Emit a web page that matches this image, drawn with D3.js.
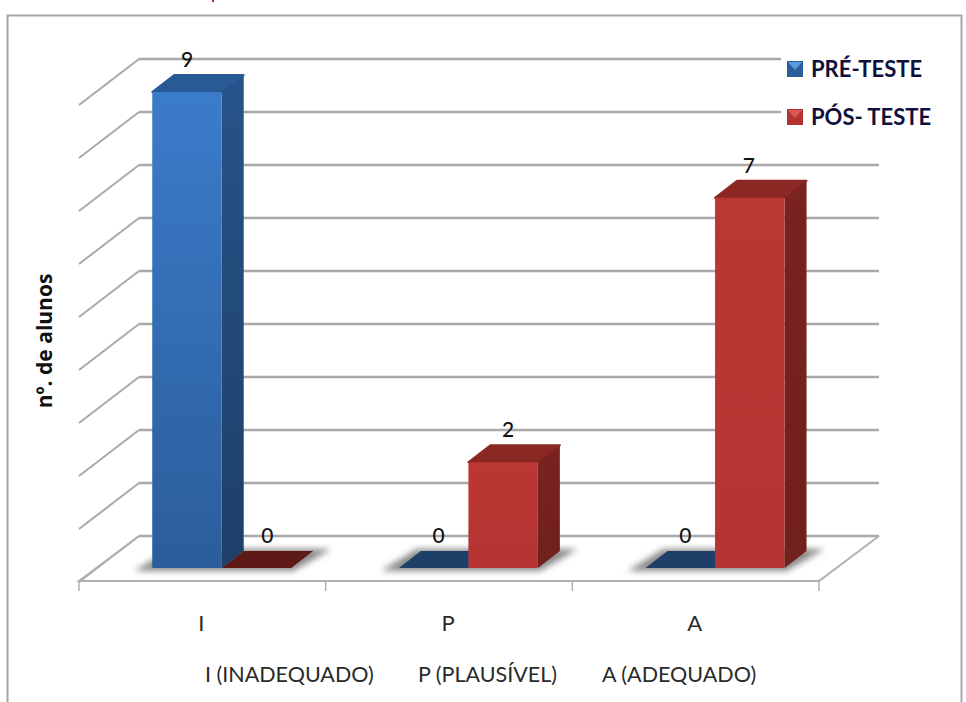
<!DOCTYPE html>
<html>
<head>
<meta charset="utf-8">
<script src="https://cdn.jsdelivr.net/npm/d3@7"></script>
<style>
  html, body { margin: 0; padding: 0; background: #fff; }
  svg { display: block; }
  text { font-family: Lato, "Open Sans", sans-serif; fill: #111; }
</style>
</head>
<body>
<script>
const categories = ["I", "P", "A"];
const seriesNames = ["PRÉ-TESTE", "PÓS- TESTE"];
const preTeste = [9, 0, 0];
const posTeste = [0, 2, 7];
const yTicks = [0, 1, 2, 3, 4, 5, 6, 7, 8, 9];
const categoryNotes = ["I (INADEQUADO)", "P (PLAUSÍVEL)", "A (ADEQUADO)"];
const axisTitle = "nº. de alunos";

const width = 966, height = 702;
const svg = d3.select("body").append("svg").attr("width", width).attr("height", height);
const defs = svg.append("defs");

// Plot geometry of the oblique 3D box
const plotLeft = 79, plotRight = 819;
const wallDx = 60, wallDy = 45;     // shift from the floor's front edge to the back wall
const barDx = 22, barDy = 17;       // depth of each bar
const floorFrontY = 581;

const x0 = d3.scaleBand().domain(categories).range([plotLeft, plotRight]);
const x1 = d3.scaleBand().domain(seriesNames).range([0, x0.step()]).paddingOuter(0.775).align(0.68);
const yBar = d3.scaleLinear().domain([0, 9]).range([568, 92]);
const yWall = d3.scaleLinear().domain([0, 9]).range([536, 59]);

const palette = {
  "PRÉ-TESTE": { top: "#2a5a96", sideHi: "#27548a", sideLo: "#1d3f68", flat: "#1d3f68", grad: "gradBlue", hi: "#3b7cca", lo: "#2b5d9b" },
  "PÓS- TESTE": { top: "#8c2823", sideHi: "#7a2320", sideLo: "#70201d", flat: "#5e1a17", grad: "gradRed", hi: "#bb3733", lo: "#b53431" }
};

for (const name of seriesNames) {
  const c = palette[name];
  const g = defs.append("linearGradient").attr("id", c.grad).attr("x1", 0).attr("y1", 0).attr("x2", 0).attr("y2", 1);
  g.append("stop").attr("offset", "0%").attr("stop-color", c.hi);
  g.append("stop").attr("offset", "100%").attr("stop-color", c.lo);
  const s = defs.append("linearGradient").attr("id", c.grad + "Side").attr("x1", 0).attr("y1", 0).attr("x2", 0).attr("y2", 1);
  s.append("stop").attr("offset", "0%").attr("stop-color", c.sideHi);
  s.append("stop").attr("offset", "100%").attr("stop-color", c.sideLo);
}
defs.append("filter").attr("id", "floorShadow")
  .attr("x", "-20%").attr("y", "-60%").attr("width", "140%").attr("height", "220%")
  .append("feGaussianBlur").attr("stdDeviation", 3);

// Outer chart frame, open at the bottom
svg.append("path")
  .attr("d", d3.line()([[7.5, height], [7.5, 15.5], [961.5, 15.5], [961.5, height]]))
  .attr("fill", "none").attr("stroke", "#a6a6a6").attr("stroke-width", 2);

// Descender of the heading cut off by the top edge
svg.append("path")
  .attr("d", d3.line()([[213, 0], [213, 2]]))
  .attr("stroke", "#c0202a").attr("stroke-width", 2);

// Back wall gridlines and their slanted continuation on the side wall
const grid = svg.append("g").attr("stroke", "#a9a9a9").attr("fill", "none");
grid.selectAll("line.back").data(yTicks).join("line").attr("class", "back")
  .attr("x1", plotLeft + wallDx).attr("x2", plotRight + wallDx)
  .attr("y1", d => yWall(d)).attr("y2", d => yWall(d))
  .attr("stroke-width", 2.5);
grid.selectAll("line.side").data(yTicks).join("line").attr("class", "side")
  .attr("x1", plotLeft + wallDx).attr("x2", plotLeft)
  .attr("y1", d => yWall(d)).attr("y2", d => yWall(d) + wallDy + 1)
  .attr("stroke-width", 2);

// Floor edges and category ticks
const floor = svg.append("g").attr("stroke", "#b0b0b0").attr("fill", "none");
floor.append("path")
  .attr("d", d3.line()([[plotLeft + wallDx, yWall(0)], [plotLeft, floorFrontY], [plotRight, floorFrontY], [plotRight + wallDx, yWall(0)]]))
  .attr("stroke-width", 2);
const tickXs = categories.map(c => x0(c)).concat(plotRight);
floor.selectAll("line.tick").data(tickXs).join("line").attr("class", "tick")
  .attr("x1", d => d).attr("x2", d => d)
  .attr("y1", floorFrontY).attr("y2", floorFrontY + 10)
  .attr("stroke-width", 1.5);

// Soft shadow under each pair of bars
svg.append("g").selectAll("path").data(categories).join("path")
  .attr("d", c => {
    const l = x0(c) + x1(seriesNames[0]);
    const r = x0(c) + x1(seriesNames[1]) + x1.bandwidth();
    const b = yBar(0);
    return d3.line()([[l - 18, b + 3], [r + 2, b + 3], [r + barDx + 18, b - barDy - 2], [l + barDx - 4, b - barDy - 2]]);
  })
  .attr("fill", "#8a8a8a").attr("filter", "url(#floorShadow)");

// Bars, each one a front, a top and a side face
const rows = categories.flatMap((c, i) => [
  { cat: c, name: seriesNames[0], value: preTeste[i] },
  { cat: c, name: seriesNames[1], value: posTeste[i] }
]);
const w = x1.bandwidth();
const bars = svg.append("g").selectAll("g").data(rows).join("g")
  .attr("stroke-linejoin", "round");

bars.each(function (d) {
  const g = d3.select(this);
  const c = palette[d.name];
  const l = x0(d.cat) + x1(d.name), r = l + w;
  const t = yBar(d.value), b = yBar(0);
  const poly = d3.line();
  if (d.value === 0) {
    g.append("path")
      .attr("d", poly([[l, b], [r, b], [r + barDx, b - barDy], [l + barDx, b - barDy]]) + "Z")
      .attr("fill", c.flat);
    return;
  }
  g.append("path")
    .attr("d", poly([[l, t], [r, t], [r + barDx, t - barDy], [l + barDx, t - barDy]]) + "Z")
    .attr("fill", c.top).attr("stroke", c.top).attr("stroke-width", 2);
  g.append("path")
    .attr("d", poly([[r, t], [r + barDx, t - barDy], [r + barDx, b - barDy], [r, b]]) + "Z")
    .attr("fill", `url(#${c.grad}Side)`);
  g.append("rect")
    .attr("x", l).attr("y", t).attr("width", w).attr("height", b - t).attr("rx", 1.5)
    .attr("fill", `url(#${c.grad})`);
});

// Value labels above the bars
const labelShift = d => {
  if (d.value === 0) return d.name === seriesNames[1] ? 11 : 5;
  return d.value === 9 ? 0 : d.value === 7 ? -1 : 5;
};
svg.append("g").selectAll("text").data(rows).join("text")
  .attr("x", d => x0(d.cat) + x1(d.name) + w / 2 + labelShift(d))
  .attr("y", d => yBar(d.value) - barDy - 8)
  .attr("text-anchor", "middle").attr("font-size", 21).attr("font-weight", 500)
  .text(d => d.value);

// Legend on a white patch that hides the upper gridlines
const legend = svg.append("g");
legend.append("rect").attr("x", 781).attr("y", 50).attr("width", 178).attr("height", 85).attr("fill", "#fff");
const legendRow = legend.selectAll("g").data(seriesNames).join("g")
  .attr("transform", (d, i) => `translate(787,${61 + i * 48})`);
legendRow.append("rect").attr("width", 16).attr("height", 16)
  .attr("fill", d => palette[d].lo);
legendRow.append("path").attr("d", d3.line()([[1, 1], [15, 1], [8, 9]]) + "Z")
  .attr("fill", d => d === seriesNames[0] ? "#5a9be0" : "#d8595a");
legendRow.append("text").attr("x", 24).attr("y", 16)
  .attr("font-size", 22).attr("font-weight", 700).style("fill", "#10103c")
  .text(d => d);

// Category labels and the notes that explain them
svg.append("g").selectAll("text").data(categories).join("text")
  .attr("x", c => x0(c) + x0.bandwidth() / 2 - 1).attr("y", 631)
  .attr("text-anchor", "middle").attr("font-size", 22).style("fill", "#2a2a2a")
  .text(c => c);

const noteX = d3.scaleOrdinal().domain(categoryNotes).range([205, 418, 602]);
svg.append("g").selectAll("text").data(categoryNotes).join("text")
  .attr("x", d => noteX(d)).attr("y", 682)
  .attr("font-size", 21.5).style("fill", "#2a2a2a")
  .text(d => d);

// Vertical axis title
svg.append("text")
  .attr("transform", "translate(52,341) rotate(-90)")
  .attr("text-anchor", "middle").attr("font-size", 21).attr("font-weight", 700)
  .style("font-family", "'Open Sans', sans-serif")
  .text(axisTitle);
</script>
</body>
</html>
